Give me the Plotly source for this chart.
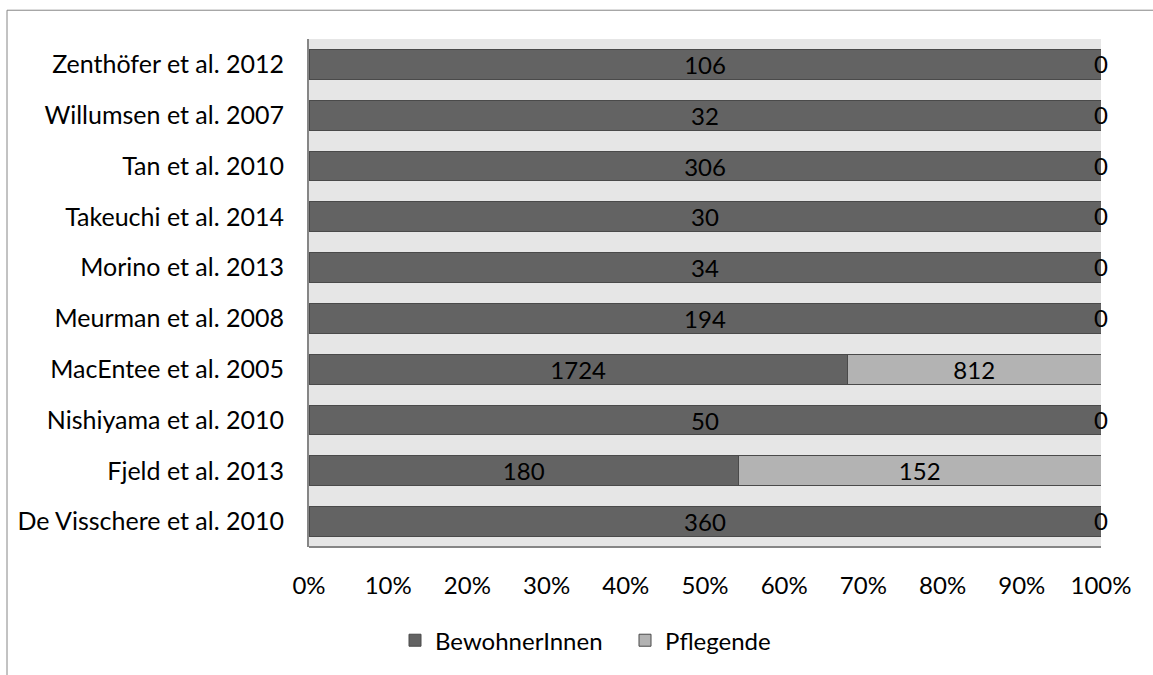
import plotly.graph_objects as go

studies = ["Zenthöfer et al. 2012", "Willumsen et al. 2007", "Tan et al. 2010",
           "Takeuchi et al. 2014", "Morino et al. 2013", "Meurman et al. 2008",
           "MacEntee et al. 2005", "Nishiyama et al. 2010", "Fjeld et al. 2013",
           "De Visschere et al. 2010"]
bewohner = [106, 32, 306, 30, 34, 194, 1724, 50, 180, 360]
pflegende = [0, 0, 0, 0, 0, 0, 812, 0, 152, 0]
tick_vals = [0, 10, 20, 30, 40, 50, 60, 70, 80, 90, 100]
tick_text = ["0%", "10%", "20%", "30%", "40%", "50%", "60%", "70%", "80%", "90%", "100%"]

FONT = "Lato, 'Open Sans', sans-serif"
FS = 24
fig = go.Figure()
fig.add_trace(go.Bar(
    y=studies, x=bewohner, orientation="h", name="BewohnerInnen",
    marker=dict(color="#636363", line=dict(color="#4a4a4a", width=1)),
    text=[str(v) for v in bewohner], textposition="inside", insidetextanchor="middle",
    textangle=0, textfont=dict(color="black", size=FS, family=FONT),
))
fig.add_trace(go.Bar(
    y=studies, x=pflegende, orientation="h", name="Pflegende",
    marker=dict(color="#b3b3b3", line=dict(color="#4a4a4a", width=1)),
    text=[str(v) if v else "" for v in pflegende], textposition="inside", insidetextanchor="middle",
    textangle=0, textfont=dict(color="black", size=FS, family=FONT),
))
zero_studies = [s for s, p in zip(studies, pflegende) if p == 0]
for s in zero_studies:
    fig.add_annotation(x=100, y=s, xref="x", yref="y", text="0", showarrow=False,
                       font=dict(color="black", size=FS, family=FONT),
                       xanchor="center", yanchor="middle", yshift=1)

fig.update_layout(
    width=1153, height=675,
    barmode="stack", barnorm="percent", bargap=0.41,
    plot_bgcolor="#e6e6e6", paper_bgcolor="white",
    margin=dict(l=309, r=52, t=39, b=124),
    font=dict(family=FONT, size=FS, color="black"),
    uniformtext=dict(minsize=FS, mode="show"),
    xaxis=dict(range=[0, 100], tickvals=tick_vals, ticktext=tick_text,
               showgrid=False, zeroline=False, showline=False, ticks="",
               ticklabelstandoff=22, fixedrange=True),
    yaxis=dict(autorange="reversed", showgrid=False, zeroline=False,
               showline=True, linecolor="#868686", linewidth=2, ticks="",
               ticklabelstandoff=18, fixedrange=True, tickfont=dict(size=25)),
    legend=dict(orientation="h", x=(395 - 309) / 792, xanchor="left", y=-0.14, yanchor="top",
                font=dict(size=FS, family=FONT), itemwidth=30, traceorder="normal",
                entrywidth=185, entrywidthmode="pixels"),
    showlegend=True,
    shapes=[
        dict(type="line", xref="paper", yref="paper", x0=0, x1=1, y0=0, y1=0,
             line=dict(color="#868686", width=2)),
        dict(type="rect", xref="paper", yref="paper",
             x0=(7 - 309) / 792, x1=(1160 - 309) / 792,
             y0=(551 - 690) / 512, y1=1 + (39 - 10) / 512,
             line=dict(color="#868686", width=1), fillcolor="rgba(0,0,0,0)"),
    ],
)
fig.write_html("out.html")
